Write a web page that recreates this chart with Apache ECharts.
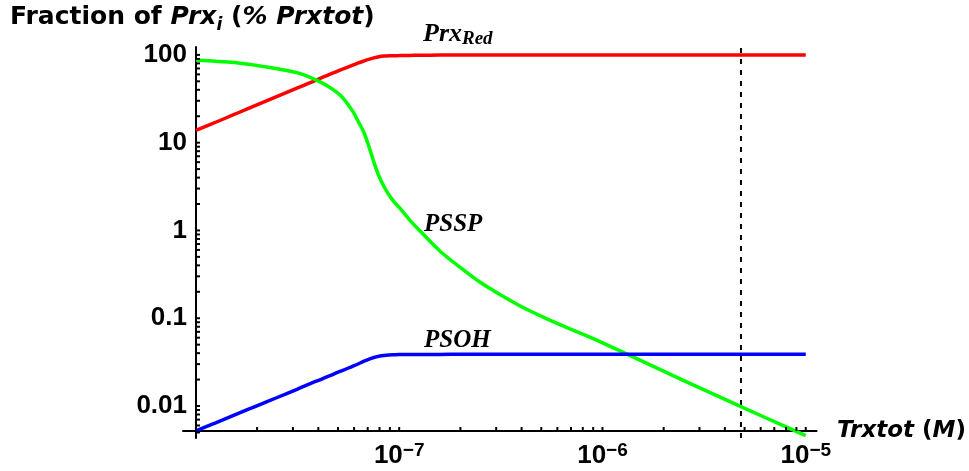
<!DOCTYPE html>
<html>
<head>
<meta charset="utf-8">
<script src="https://cdn.jsdelivr.net/npm/echarts@6/dist/echarts.min.js"></script>
<style>
  html, body { margin: 0; padding: 0; background: #fff; }
  #chart { width: 969px; height: 471px; }
</style>
</head>
<body>
<div id="chart"></div>
<script>
// Total thioredoxin concentration, log10 of molar value
const log10Trxtot = [
  -8, -7.9, -7.8, -7.7, -7.6, -7.5, -7.45, -7.4, -7.35, -7.3,
  -7.275, -7.25, -7.225, -7.2, -7.175, -7.15, -7.125, -7.1, -7.075, -7.05,
  -7.025, -7, -6.95, -6.9, -6.8, -6.7, -6.6, -6.5, -6.4, -6.3,
  -6.2, -6.1, -6, -5.8, -5.6, -5.4, -5.2, -5
];

// Fraction of each peroxiredoxin form, % of Prxtot
const prxRed = [
  13.8, 17.2, 21.5, 26.9, 33.6, 42.1, 47.0, 52.6, 58.9, 65.8,
  69.2, 72.9, 76.9, 81.1, 85.0, 88.9, 92.4, 95.4, 97.0, 97.8,
  98.0, 98.1, 98.6, 98.9, 99.4, 99.6, 99.7, 99.78, 99.82, 99.86,
  99.88, 99.9, 99.91, 99.93, 99.94, 99.95, 99.955, 99.96
];
const pssp = [
  87.7, 84.4, 81.5, 75.9, 69.6, 62.4, 56.9, 50.6, 44.0, 36.4,
  31.9, 26.9, 22.1, 17.2, 13.3, 9.18, 6.04, 4.18, 3.17, 2.54,
  2.12, 1.83, 1.33, 1.0, 0.584, 0.379, 0.255, 0.184, 0.136, 0.105,
  0.0827, 0.0662, 0.0525, 0.0321, 0.0195, 0.0120, 0.0074, 0.0046
];
const psoh = [
  0.0052, 0.00647, 0.00807, 0.01005, 0.0125, 0.0156, 0.0175, 0.0195, 0.0217, 0.0243,
  0.0256, 0.0271, 0.0286, 0.0303, 0.0322, 0.0340, 0.0357, 0.0369, 0.0377, 0.0381,
  0.0383, 0.0385, 0.0386, 0.0387, 0.0387, 0.0388, 0.0388, 0.0388, 0.0388, 0.0388,
  0.0388, 0.0388, 0.0388, 0.0388, 0.0388, 0.0388, 0.0388, 0.0388
];

// Concentration marked by the dashed line (M)
const markerTrx = 4.8e-6;

// Axis ranges
const xMin = 8.64e-9, xMax = 1.13e-5;
const yMin = 0.00432, yMax = 123;

// Axis labels
const xTickValues = [1e-7, 1e-6, 1e-5];
const xTickExponents = ['\u22127', '\u22126', '\u22125'];
const yTickValues = [0.01, 0.1, 1, 10, 100];
const yTickLabels = ['0.01', '0.1', '1', '10', '100'];

// The axes cross inside the plot frame
const xAxisRaise = 7;   // px the x axis sits above the grid bottom
const yAxisShift = 13;  // px the y axis sits right of the grid left
const tickLen = 4;

// Log-scale tick positions: every integer multiple within each decade
function decadeTicks(fromExp, toExp) {
  const out = [];
  for (let e = fromExp; e <= toExp; e++) {
    for (let m = 1; m <= 9; m++) out.push(m * Math.pow(10, e));
  }
  return out;
}
const xTicks = decadeTicks(-8, -5).filter(v => v >= 1e-8 && v <= 1.0001e-5);
const yTicks = decadeTicks(-3, 2).filter(v => v >= 0.005 && v <= 101);

function indexOfLog(list, v) {
  for (let i = 0; i < list.length; i++) {
    if (Math.abs(Math.log10(v) - Math.log10(list[i])) < 1e-6) return i;
  }
  return -1;
}

const sans = '"Liberation Sans", Arial, sans-serif';
const wide = '"DejaVu Sans", Verdana, sans-serif';
const serif = '"Liberation Serif", "Times New Roman", serif';

const trxtot = log10Trxtot.map(e => Math.pow(10, e));
const pairs = vals => trxtot.map((x, i) => [x, vals[i]]);

const chart = echarts.init(document.getElementById('chart'), null, { renderer: 'canvas' });

const lineSeries = (name, vals, color) => ({
  name,
  type: 'line',
  data: pairs(vals),
  showSymbol: false,
  smooth: 0.3,
  lineStyle: { color, width: 3.5, cap: 'butt' },
  itemStyle: { color },
  clip: true,
  z: 3
});

const tickSeries = (values, horizontal) => ({
  type: 'custom',
  silent: true,
  clip: false,
  z: 5,
  data: values.map(v => horizontal ? [xMin, v] : [v, yMin]),
  encode: { x: 0, y: 1 },
  renderItem: (params, api) => {
    const cs = params.coordSys;
    const p = api.coord([api.value(0), api.value(1)]);
    let shape;
    if (horizontal) {
      const x0 = cs.x + yAxisShift;
      shape = { x1: x0, y1: p[1], x2: x0 + tickLen, y2: p[1] };
    } else {
      const y0 = cs.y + cs.height - xAxisRaise;
      shape = { x1: p[0], y1: y0, x2: p[0], y2: y0 - tickLen };
    }
    return { type: 'line', shape, style: { stroke: '#000', lineWidth: 2 } };
  }
});

chart.setOption({
  animation: false,
  backgroundColor: '#fff',
  title: {
    left: 10,
    top: 0,
    padding: 0,
    text: '{a|Fraction of }{bi|Prx}{sub|i}{a| (}{bi|% Prxtot}{a|)}',
    textStyle: {
      rich: {
        a: { fontFamily: wide, fontWeight: 'bold', fontSize: 25, color: '#000', lineHeight: 34 },
        bi: { fontFamily: wide, fontWeight: 'bold', fontStyle: 'italic', fontSize: 25, color: '#000', lineHeight: 34 },
        sub: { fontFamily: wide, fontWeight: 'bold', fontStyle: 'italic', fontSize: 17, color: '#000', lineHeight: 23, verticalAlign: 'bottom' }
      }
    }
  },
  grid: { left: 183, right: 152, top: 47, bottom: 33, containLabel: false },
  xAxis: {
    type: 'log',
    logBase: 10,
    min: xMin,
    max: xMax,
    offset: -xAxisRaise,
    splitLine: { show: false },
    axisLine: { show: true, lineStyle: { color: '#000', width: 2 } },
    axisTick: { show: false },
    minorTick: { show: false },
    axisLabel: {
      customValues: xTickValues,
      margin: 10,
      formatter: v => {
        const i = indexOfLog(xTickValues, v);
        return i < 0 ? '' : '{b|10}{s|' + xTickExponents[i] + '}';
      },
      rich: {
        b: { fontFamily: sans, fontWeight: 'bold', fontSize: 26, color: '#000', lineHeight: 30 },
        s: { fontFamily: sans, fontWeight: 'bold', fontSize: 19, color: '#000', lineHeight: 8, verticalAlign: 'top' }
      }
    },
    name: '{bi|Trxtot }{a|(}{bi|M}{a|)}',
    nameLocation: 'end',
    nameGap: 13,
    nameTextStyle: {
      align: 'left',
      verticalAlign: 'middle',
      rich: {
        a: { fontFamily: wide, fontWeight: 'bold', fontSize: 23, color: '#000' },
        bi: { fontFamily: wide, fontWeight: 'bold', fontStyle: 'italic', fontSize: 23, color: '#000' }
      }
    }
  },
  yAxis: {
    type: 'log',
    logBase: 10,
    min: yMin,
    max: yMax,
    offset: -yAxisShift,
    splitLine: { show: false },
    axisLine: { show: true, lineStyle: { color: '#000', width: 2 } },
    axisTick: { show: false },
    minorTick: { show: false },
    axisLabel: {
      customValues: yTickValues,
      margin: 9,
      fontFamily: sans,
      fontWeight: 'bold',
      fontSize: 26,
      color: '#000',
      formatter: v => {
        const i = indexOfLog(yTickValues, v);
        return i < 0 ? '' : yTickLabels[i];
      }
    }
  },
  graphic: [
    {
      type: 'text', left: 423, top: 21, silent: true,
      style: {
        text: '{m|Prx}{s|Red}',
        rich: {
          m: { fontFamily: serif, fontWeight: 'bold', fontStyle: 'italic', fontSize: 26, fill: '#000', lineHeight: 30 },
          s: { fontFamily: serif, fontWeight: 'bold', fontStyle: 'italic', fontSize: 19, fill: '#000', lineHeight: 20, verticalAlign: 'bottom' }
        }
      }
    },
    {
      type: 'text', left: 424, top: 212, silent: true,
      style: { text: 'PSSP', fontFamily: serif, fontWeight: 'bold', fontStyle: 'italic', fontSize: 25, fill: '#000' }
    },
    {
      type: 'text', left: 424, top: 328, silent: true,
      style: { text: 'PSOH', fontFamily: serif, fontWeight: 'bold', fontStyle: 'italic', fontSize: 25, fill: '#000' }
    }
  ],
  series: [
    {
      name: 'marker',
      type: 'line',
      data: [[markerTrx, yMin], [markerTrx, yMax]],
      showSymbol: false,
      silent: true,
      lineStyle: { color: '#000', width: 2, type: [5, 6] },
      z: 2
    },
    lineSeries('PrxRed', prxRed, '#ff0000'),
    lineSeries('PSSP', pssp, '#00ff00'),
    lineSeries('PSOH', psoh, '#0000ff'),
    tickSeries(xTicks, false),
    tickSeries(yTicks, true)
  ]
});
</script>
</body>
</html>
